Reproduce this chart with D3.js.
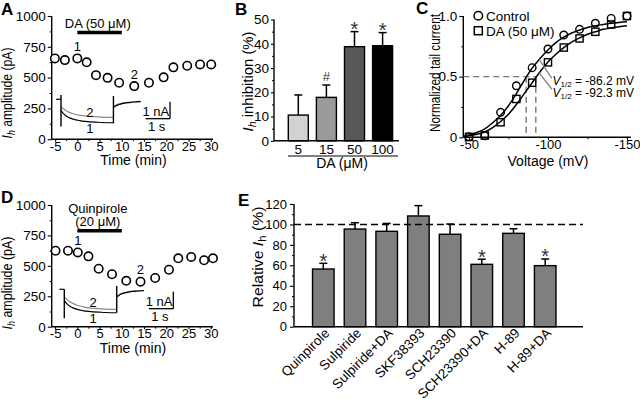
<!DOCTYPE html>
<html><head><meta charset="utf-8">
<script src="https://cdn.jsdelivr.net/npm/d3@7"></script>
<style>
body{margin:0;background:#fff;}
svg{display:block;background:#fff;}
</style></head><body>
<svg id="c" width="640" height="402"></svg>
<script>
// ---------------- DATA ----------------
// Panel A: DA time course
const timeA = [-5.05, -2.8, 0, 2.1, 4.2, 6.8, 9.4, 12.8, 16.1, 19.4, 21.6, 24.7, 27.6, 30.1];
const ampA  = [656, 642, 656, 624, 520, 498, 458, 431, 458, 502, 583, 596, 607, 607];
// Panel D: Quinpirole time course
const timeD = [-4.9, -2.1, 0.1, 2.5, 4.8, 7.8, 11.0, 14.2, 17.5, 20.6, 22.7, 25.6, 28.5, 30.5];
const ampD  = [624, 624, 610, 578, 476, 431, 377, 370, 400, 468, 562, 573, 546, 562];
const timeTicks = [-5, 0, 5, 10, 15, 20, 25, 30];
const timeMinor = [-2.5, 2.5, 7.5, 12.5, 17.5, 22.5, 27.5];
const ampTicks = [0, 250, 500, 750, 1000];
const ampMinor = [125, 375, 625, 875];

// Inset traces (time in s, current in nA relative to holding)
const inTraceT = [0, 0.05, 0.1, 0.2, 0.3, 0.5, 0.75, 1.0, 1.5, 2.14];
const inTailT  = [2.16, 2.25, 2.4, 2.6, 2.8, 3.0, 3.25];
const insetA1 = [-0.63, -0.75, -0.84, -0.97, -1.06, -1.17, -1.25, -1.30, -1.35, -1.38];
const insetA2 = [-0.43, -0.50, -0.56, -0.66, -0.74, -0.85, -0.93, -0.98, -1.03, -1.06];
const tailA1  = [-0.47, -0.38, -0.30, -0.23, -0.19, -0.16, -0.14];
const tailA2  = [-0.42, -0.33, -0.26, -0.20, -0.16, -0.14, -0.12];
const insetD1 = [-0.63, -0.75, -0.84, -0.97, -1.06, -1.17, -1.25, -1.30, -1.35, -1.38];
const insetD2 = [-0.44, -0.52, -0.59, -0.70, -0.79, -0.92, -1.02, -1.09, -1.15, -1.18];
const tailD1  = [-0.44, -0.33, -0.24, -0.17, -0.12, -0.10, -0.08];
const tailD2  = [-0.40, -0.30, -0.21, -0.15, -0.11, -0.09, -0.07];
const onsetA = [0.25, -1.6], offsetA = [0.2, -1.41];
const onsetD = [0.0, -1.7],  offsetD = [0.19, -1.38];

// Panel B
const doseLabels = ["5", "15", "50", "100"];
const inhibMean = [10.6, 17.9, 38.8, 39.2];
const inhibSem  = [8.3, 5.1, 6.2, 5.4];
const inhibSig  = ["", "#", "*", "*"];
const inhibFill = ["#d2d2d2", "#9a9a9a", "#575757", "#000000"];
const inhibTicks = [0, 10, 20, 30, 40, 50];
const inhibMinor = [5, 15, 25, 35, 45];

// Panel C
const voltages = [-50, -60, -70, -80, -90, -100, -110, -120, -130, -140, -150];
const ctrlTail = [0.005, 0.012, 0.206, 0.425, 0.574, 0.728, 0.843, 0.89, 0.94, 0.98, 1.0];
const daTail   = [0.003, 0.015, 0.124, 0.316, 0.45, 0.618, 0.74, 0.815, 0.87, 0.93, 1.0];
const fitV     = [-47, -50, -55, -60, -65, -70, -75, -80, -85, -90, -95, -100, -105, -110, -115, -120, -125, -130, -135, -140, -145, -150];
const ctrlFit  = [0.01, 0.02, 0.04, 0.07, 0.12, 0.18, 0.26, 0.36, 0.47, 0.57, 0.65, 0.72, 0.78, 0.825, 0.86, 0.885, 0.905, 0.92, 0.93, 0.94, 0.947, 0.952];
const daFit    = [0.005, 0.012, 0.025, 0.045, 0.08, 0.13, 0.19, 0.27, 0.36, 0.45, 0.54, 0.62, 0.685, 0.74, 0.785, 0.82, 0.85, 0.87, 0.89, 0.902, 0.912, 0.92];
const vHalf = [-86.2, -92.3];
const voltTicks = [-50, -100, -150];
const voltMinor = [-75, -125];
const normTicks = [0, 0.5, 1.0];
const normMinor = [0.25, 0.75];

// Panel E
const drugs = ["Quinpirole", "Sulpiride", "Sulpiride+DA", "SKF38393", "SCH23390", "SCH23390+DA", "H-89", "H-89+DA"];
const relIh  = [56.4, 95.5, 93.3, 108.3, 90.4, 61.0, 91.3, 59.7];
const relSem = [5.6, 6.2, 7.7, 10.1, 10.0, 5.0, 4.5, 6.5];
const relSig = ["*", "", "", "", "", "*", "", "*"];
const relTicks = [0, 20, 40, 60, 80, 100, 120];
const relMinor = [10, 30, 50, 70, 90, 110];

// ---------------- HELPERS ----------------
const F = 'Arial, "Liberation Sans", Helvetica, sans-serif';
const svg = d3.select("#c").attr("font-family", F);
const hy = d => (d < 0 ? "-" + Math.abs(d) : String(d));

function ln(g, x1, y1, x2, y2, w = 1.3, col = "#000", dash = null) {
  const l = g.append("line").attr("x1", x1).attr("y1", y1).attr("x2", x2).attr("y2", y2)
    .attr("stroke", col).attr("stroke-width", w);
  if (dash) l.attr("stroke-dasharray", dash);
  return l;
}
function txt(g, x, y, s, fs, anchor = "middle") {
  return g.append("text").attr("x", x).attr("y", y).attr("font-size", fs)
    .attr("text-anchor", anchor).attr("fill", "#000").text(s);
}
function leftAxis(g, scale, x, majors, minors, fmt, size = 4, pad = 2, fs = 13.5) {
  const a = g.append("g").attr("transform", `translate(${x},0)`)
    .call(d3.axisLeft(scale).tickValues(majors).tickSize(size).tickPadding(pad).tickFormat(fmt));
  a.select(".domain").remove();
  a.attr("font-family", F).attr("font-size", fs);
  a.selectAll("line").attr("stroke-width", 1.1);
  a.selectAll("text").attr("fill", "#000");
  if (minors) {
    const m = g.append("g").attr("transform", `translate(${x},0)`)
      .call(d3.axisLeft(scale).tickValues(minors).tickSize(2).tickFormat(""));
    m.select(".domain").remove(); m.selectAll("line").attr("stroke-width", 1);
  }
}
function bottomAxis(g, scale, y, majors, minors, fmt, size = 2.5, pad = 0, fs = 13.5) {
  const a = g.append("g").attr("transform", `translate(0,${y})`)
    .call(d3.axisBottom(scale).tickValues(majors).tickSize(size).tickPadding(pad).tickFormat(fmt));
  a.select(".domain").remove();
  a.attr("font-family", F).attr("font-size", fs);
  a.selectAll("line").attr("stroke-width", 1.1);
  a.selectAll("text").attr("fill", "#000");
  if (minors) {
    const m = g.append("g").attr("transform", `translate(0,${y})`)
      .call(d3.axisBottom(scale).tickValues(minors).tickSize(2).tickFormat(""));
    m.select(".domain").remove(); m.selectAll("line").attr("stroke-width", 1);
  }
}
// rotated label with I_h style parts
function rotLabel(g, cx, cy, parts, fs, len) {
  const t = g.append("text").attr("transform", `translate(${cx},${cy}) rotate(-90)`)
    .attr("text-anchor", "middle").attr("font-size", fs).attr("dy", "0.35em").attr("fill", "#000");
  parts.forEach(p => {
    const s = t.append("tspan").text(p.s);
    if (p.it) s.attr("font-style", "italic");
    if (p.sub) s.attr("font-size", fs * 0.72).attr("dy", 3);
    if (p.after) s.attr("dy", -3);
  });
  if (len) t.attr("textLength", len).attr("lengthAdjust", "spacingAndGlyphs");
  return t;
}
function letter(s, x, y) {
  svg.append("text").attr("x", x).attr("y", y).attr("font-size", 17).attr("font-weight", "bold").attr("fill", "#000").text(s);
}
function inset(g, ox, oy, tr1, tr2, tl1, tl2, onset, offset) {
  const ts = d3.scaleLinear().domain([0, 1]).range([ox, ox + 24.5]);
  const is = d3.scaleLinear().domain([0, 1]).range([oy, oy - 17]);
  const pl = d3.line().x(d => ts(d[0])).y(d => is(d[1])).curve(d3.curveMonotoneX);
  const lin = d3.line().x(d => ts(d[0])).y(d => is(d[1]));
  const z = (T, V) => T.map((t, i) => [t, V[i]]);
  g.append("path").attr("d", pl(z(inTraceT, tr2))).attr("fill", "none").attr("stroke", "#8a8a8a").attr("stroke-width", 1.2);
  g.append("path").attr("d", pl(z(inTailT, tl2))).attr("fill", "none").attr("stroke", "#8a8a8a").attr("stroke-width", 1.2);
  g.append("path").attr("d", pl(z(inTraceT, tr1))).attr("fill", "none").attr("stroke", "#000").attr("stroke-width", 1.2);
  g.append("path").attr("d", pl(z(inTailT, tl1))).attr("fill", "none").attr("stroke", "#000").attr("stroke-width", 1.2);
  g.append("path").attr("d", lin([[-0.2, 0], [0, 0]])).attr("stroke", "#000").attr("stroke-width", 1.2);
  g.append("path").attr("d", lin([[0, onset[0]], [0, onset[1]]])).attr("stroke", "#000").attr("stroke-width", 1.4);
  g.append("path").attr("d", lin([[inTraceT[inTraceT.length - 1], offset[0]], [inTraceT[inTraceT.length - 1], offset[1]]])).attr("stroke", "#000").attr("stroke-width", 1.4);
  // scale bar: 1 s x 1 nA
  const bt = 3.45, bi = -1.14;
  ln(g, ts(bt), is(bi), ts(bt + 1), is(bi), 1.3);
  ln(g, ts(bt + 1), is(bi), ts(bt + 1), is(bi + 1), 1.3);
  txt(g, ts(bt + 0.42), is(bi) - 3, "1 nA", 13);
  txt(g, ts(bt + 0.45), is(bi) + 12.5, "1 s", 13);
  txt(g, ts(1.18), oy + 18, "2", 13);
  txt(g, ts(1.18), oy + 33.5, "1", 13);
}
const IhParts = rest => [{ s: "I", it: true }, { s: "h", it: true, sub: true }, { s: rest, after: true }];

// ---------------- PANELS A & D ----------------
function timePanel(yTop, yBot, times, amps, inData, drug) {
  const g = svg.append("g");
  const x = d3.scaleLinear().domain([-5.76, 30.5]).range([51.7, 213]);
  const y = d3.scaleLinear().domain([0, 1000]).range([yBot, yTop]);
  leftAxis(g, y, 51.7, ampTicks, ampMinor, d => d, 4, 2);
  bottomAxis(g, x, yBot, timeTicks, timeMinor, hy, 2.5, 0, 13);
  ln(g, 51.7, y(0), 51.7, y(1000), 1.4);
  ln(g, 51.7, y(0), 213, y(0), 1.4);
  // drug bar
  ln(g, x(0), y(0) - drug.barOff, x(10), y(0) - drug.barOff, 3.5);
  drug.labels.forEach((s, i) => txt(g, x(4.6), y(0) - drug.labOff[i], s, 13));
  // points
  g.selectAll("circle.pt").data(times).join("circle")
    .attr("cx", d => x(d)).attr("cy", (d, i) => y(amps[i])).attr("r", 4.2)
    .attr("fill", "#fff").attr("stroke", "#000").attr("stroke-width", 1.6);
  txt(g, x(times[2]), y(amps[2]) - 7, "1", 13);
  txt(g, x(times[7]), y(amps[7]) - 7.5, "2", 13);
  inset(g, ...inData);
  return { g, x, y };
}
const pA = timePanel(16, 139.2, timeA, ampA,
  [61, 99.3, insetA1, insetA2, tailA1, tailA2, onsetA, offsetA],
  { barOff: 106.7, labels: ["DA (50 μM)"], labOff: [111.2] });
txt(pA.g, 133.5, 164.5, "Time (min)", 14);
rotLabel(pA.g, 7, 93, IhParts(" amplitude (pA)"), 14, 91);
letter("A", 1, 15);

const pD = timePanel(205, 326.7, timeD, ampD,
  [64.3, 289.3, insetD1, insetD2, tailD1, tailD2, onsetD, offsetD],
  { barOff: 96, labels: ["Quinpirole", "(20 μM)"], labOff: [113.7, 100.7] });
txt(pD.g, 133, 352.5, "Time (min)", 14);
rotLabel(pD.g, 7, 283, IhParts(" amplitude (pA)"), 14, 93);
letter("D", 1, 203);

// ---------------- PANEL B ----------------
{
  const g = svg.append("g");
  const x = d3.scaleBand().domain(doseLabels).range([284.25, 396.65]).paddingInner(0.288).paddingOuter(0.144);
  const y = d3.scaleLinear().domain([0, 50]).range([140.8, 19.5]);
  leftAxis(g, y, 274, inhibTicks, inhibMinor, d => d, 3, 2);
  g.selectAll("rect").data(doseLabels).join("rect")
    .attr("x", d => x(d)).attr("y", (d, i) => y(inhibMean[i]))
    .attr("width", x.bandwidth()).attr("height", (d, i) => y(0) - y(inhibMean[i]))
    .attr("fill", (d, i) => inhibFill[i]).attr("stroke", "#000").attr("stroke-width", 1.4);
  doseLabels.forEach((d, i) => {
    const cx = x(d) + x.bandwidth() / 2, top = y(inhibMean[i] + inhibSem[i]);
    ln(g, cx, y(inhibMean[i]), cx, top, 1.5);
    ln(g, cx - 4, top, cx + 4, top, 1.5);
    txt(g, cx, 153.5, d, 13.5);
    if (inhibSig[i] === "*") txt(g, cx, top + 4.4, "*", 20).attr("fill", "#333");
    if (inhibSig[i] === "#") txt(g, cx, top - 4, "#", 13).attr("fill", "#333");
  });
  ln(g, 274, y(0), 274, y(50), 1.4);
  ln(g, 274, y(0), 399, y(0), 1.4);
  ln(g, 288, 156, 398, 156, 1.2);
  txt(g, 342, 168, "DA (μM)", 14);
  rotLabel(g, 248, 81.5, IhParts(" inhibition (%)"), 14, 100);
  letter("B", 235, 15);
}

// ---------------- PANEL C ----------------
{
  const g = svg.append("g");
  const x = d3.scaleLinear().domain([-46.4, -152.5]).range([463.3, 630.9]);
  const y = d3.scaleLinear().domain([0, 1]).range([137.3, 16]);
  leftAxis(g, y, 463.3, normTicks, normMinor, d => (d === 0 ? "0" : d.toFixed(1)), 4, 2);
  bottomAxis(g, x, 137.3, voltTicks, voltMinor, hy, 2.5, 0, 13);
  ln(g, 463.3, y(0), 463.3, y(1), 1.4);
  ln(g, 463.3, y(0), 630.9, y(0), 1.4);
  // dashed guides
  ln(g, 463.3, y(0.5), x(vHalf[1]), y(0.5), 1.4, "#777", "6,4");
  vHalf.forEach(v => ln(g, x(v), y(0.5), x(v), y(0), 1.4, "#777", "6,4"));
  // fits
  const fl = d3.line().x((d, i) => x(fitV[i])).y(d => y(d)).curve(d3.curveMonotoneX);
  g.append("path").attr("d", fl(ctrlFit)).attr("fill", "none").attr("stroke", "#000").attr("stroke-width", 1.5);
  g.append("path").attr("d", fl(daFit)).attr("fill", "none").attr("stroke", "#000").attr("stroke-width", 1.5);
  // markers
  g.selectAll("rect.sq").data(voltages).join("rect").attr("class", "sq")
    .attr("x", d => x(d) - 3.6).attr("y", (d, i) => y(daTail[i]) - 3.6).attr("width", 7.2).attr("height", 7.2)
    .attr("fill", "none").attr("stroke", "#000").attr("stroke-width", 1.4);
  g.selectAll("circle.ci").data(voltages).join("circle").attr("class", "ci")
    .attr("cx", d => x(d)).attr("cy", (d, i) => y(ctrlTail[i])).attr("r", 3.8)
    .attr("fill", "none").attr("stroke", "#000").attr("stroke-width", 1.4);
  // pointers to V1/2 labels
  ln(g, x(-94.5), y(0.64), x(-102.5), y(0.486), 1.3, "#888");
  ln(g, x(-94.5), y(0.53), x(-102.5), y(0.396), 1.3, "#888");
  vHalf.forEach((v, i) => {
    const t = g.append("text").attr("x", 552.5).attr("y", 85 + i * 11.5).attr("font-size", 12).attr("fill", "#000");
    t.append("tspan").attr("font-style", "italic").text("V");
    t.append("tspan").attr("font-size", 8).attr("dy", 2).text("1/2");
    t.append("tspan").attr("dy", -2).text(" = " + hy(v) + " mV");
  });
  // legend
  g.append("circle").attr("cx", 478.3).attr("cy", 15.7).attr("r", 4.3).attr("fill", "none").attr("stroke", "#000").attr("stroke-width", 1.5);
  txt(g, 486, 20.5, "Control", 13.5, "start");
  g.append("rect").attr("x", 474.3).attr("y", 26.7).attr("width", 8).attr("height", 8).attr("fill", "none").attr("stroke", "#000").attr("stroke-width", 1.5);
  txt(g, 486, 35.5, "DA (50 μM)", 13.5, "start");
  txt(g, 548, 166, "Voltage (mV)", 14);
  rotLabel(g, 435, 73, [{ s: "Normalized tail current" }], 14, 118);
  letter("C", 416, 14);
}

// ---------------- PANEL E ----------------
{
  const g = svg.append("g");
  const x = d3.scaleBand().domain(drugs).range([307.45, 561.05]).paddingInner(0.32).paddingOuter(0.16);
  const y = d3.scaleLinear().domain([0, 120]).range([326.7, 204]);
  leftAxis(g, y, 294, relTicks, relMinor, d => d, 4, 3, 13);
  g.selectAll("rect").data(drugs).join("rect")
    .attr("x", d => x(d)).attr("y", (d, i) => y(relIh[i]))
    .attr("width", x.bandwidth()).attr("height", (d, i) => y(0) - y(relIh[i]))
    .attr("fill", "#7f7f7f").attr("stroke", "#000").attr("stroke-width", 1.4);
  drugs.forEach((d, i) => {
    const cx = x(d) + x.bandwidth() / 2, top = y(relIh[i] + relSem[i]);
    ln(g, cx, y(relIh[i]), cx, top, 1.5);
    ln(g, cx - 4, top, cx + 4, top, 1.5);
    if (relSig[i]) txt(g, cx, top + 4.4, "*", 20).attr("fill", "#333");
    g.append("text").attr("transform", `translate(${cx + 7},${334}) rotate(-45)`)
      .attr("text-anchor", "end").attr("font-size", 13.5).attr("fill", "#000").text(d);
  });
  ln(g, 294, y(100), 583, y(100), 1.5, "#000", "7,4");
  ln(g, 294, y(0), 294, y(120), 1.4);
  ln(g, 294, y(0), 583, y(0), 1.4);
  rotLabel(g, 258, 257, [{ s: "Relative " }, { s: "I", it: true }, { s: "h", sub: true }, { s: " (%)", after: true }], 14, 101);
  letter("E", 238, 206);
}
</script>
</body></html>
